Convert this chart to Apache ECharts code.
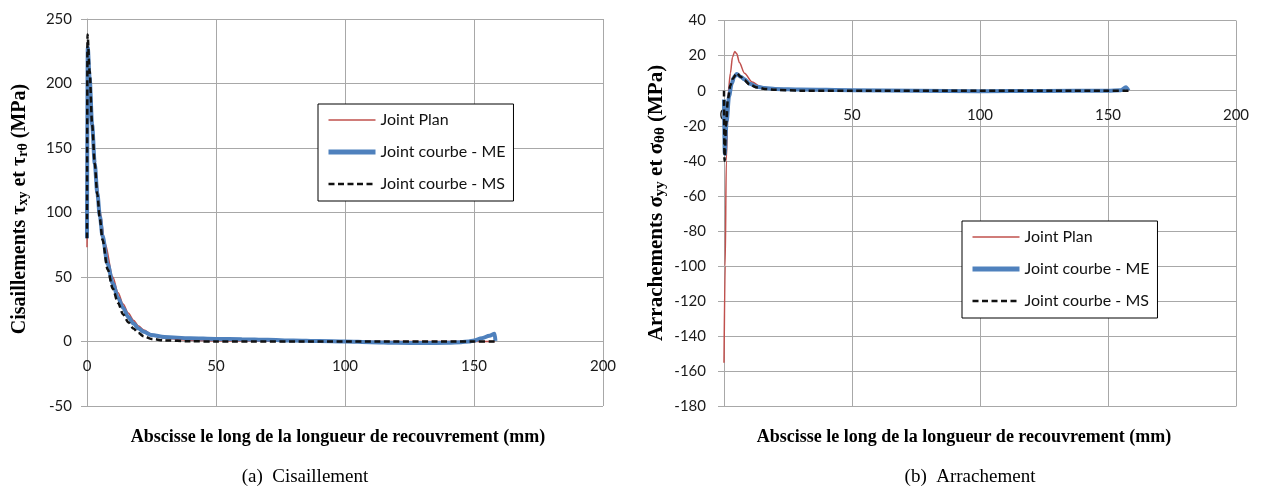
<!DOCTYPE html>
<html>
<head>
<meta charset="utf-8">
<script src="https://cdn.jsdelivr.net/npm/echarts@6/dist/echarts.min.js"></script>
<style>
html,body{margin:0;padding:0;background:#fff;}
#c{width:1262px;height:492px;}
</style>
</head>
<body>
<div id="c"></div>
<script>
// ---- data ----
const seriesNames = ['Joint Plan', 'Joint courbe - ME', 'Joint courbe - MS'];

// (a) Cisaillement
const shearPlanX = [0, 0.5, 1.5, 3, 5, 7, 10, 12, 14, 16, 18, 20, 22, 25, 30, 40, 50, 75, 100, 125, 150, 158];
const shearPlanY = [73, 190, 172, 142, 101, 76, 50, 38, 29, 22, 16.5, 12, 9, 5.5, 2.5, 1, 0.5, 0.2, 0, 0, 0, 0];
const shearMEX = [0, 0.3, 1, 2, 3, 4, 5, 6, 8, 10, 12, 14, 16, 18, 20, 22, 25, 30, 40, 50, 60, 70, 80, 90, 100, 110, 120, 130, 140, 145, 148, 150, 153, 156, 158, 158.3];
const shearMEY = [80, 228, 205, 168, 138, 115, 97, 82, 60, 45, 34, 26, 19, 14, 10, 7.5, 5, 3.5, 2.5, 2, 1.8, 1.3, 0.8, 0.3, 0, -0.5, -1, -1.2, -1, -0.5, 0, 0.8, 2.5, 4.5, 6, 0.5];
const shearMSX = [0, 0.2, 1, 2, 3, 4, 5, 6, 8, 10, 12, 14, 16, 18, 20, 22, 25, 30, 40, 50, 100, 150, 158];
const shearMSY = [80, 238, 210, 168, 138, 114, 95, 79, 56, 41, 30, 21, 15, 10, 6.5, 4, 2, 0.8, 0.2, 0, 0, 0, 0];

// (b) Arrachement
const peelPlanX = [0, 0.45, 0.9, 1.7, 2.5, 3.3, 4.2, 5, 6, 8, 11, 14, 16, 20, 30, 50, 100, 158];
const peelPlanY = [-155, -100, -40, 0, 10, 19, 22.4, 21, 16, 10, 5, 2.5, 1.3, 0.8, 0.3, 0, 0, 0];
const peelMEX = [0, 0.3, 1, 2, 3, 4, 5, 6.5, 8, 10, 13, 16, 20, 30, 50, 75, 100, 125, 150, 155, 157, 158];
const peelMEY = [-5, -36, -18, -3, 4, 8, 9.5, 8, 6.5, 4, 2.3, 1.5, 1, 0.7, 0.3, 0, -0.3, -0.2, 0, 0.3, 2, 0];
const peelMSX = [0, 0.2, 0.8, 1.5, 2.5, 3.5, 5, 6.5, 8, 10, 13, 16, 20, 30, 50, 100, 150, 158];
const peelMSY = [0, -40, -20, -5, 3, 7, 10, 8, 6, 3.5, 1.8, 1, 0.5, 0, 0, 0, 0, 0];

// axes
const xMin = 0, xMax = 200, xStep = 50;
const shearMin = -50, shearMax = 250, shearStep = 50;
const peelMin = -180, peelMax = 40, peelStep = 20;

// texts
const xAxisTitle = 'Abscisse le long de la longueur de recouvrement (mm)';
const captionA = '(a)  Cisaillement';
const captionB = '(b)  Arrachement';

// ---- build ----
const zip = (xs, ys) => xs.map((x, i) => [x, ys[i]]);
const GRID = '#a8a8a8';
const styles = [
  { color: '#c0504d', width: 1.5, type: 'solid' },
  { color: '#4f81bd', width: 4, type: 'solid' },
  { color: '#111111', width: 2.5, type: [6, 3.5] }
];
const tickFont = { fontFamily: 'Lato', fontSize: 15, color: '#1a1a1a' };

const grids = [
  { left: 87, top: 19, width: 516, height: 387 },
  { left: 724, top: 20.5, width: 512, height: 386 }
];

// x axis sits on the y = 0 line (as in the spreadsheet chart)
function xAxis(gi, yMin, yMax, margin) {
  const off = -((0 - yMin) / (yMax - yMin)) * grids[gi].height;
  return {
    type: 'value', gridIndex: gi, min: xMin, max: xMax, interval: xStep,
    position: 'bottom', offset: off,
    axisLine: { onZero: false, lineStyle: { color: GRID, width: 1 } },
    axisTick: { show: false },
    axisLabel: Object.assign({ margin: margin, hideOverlap: false }, tickFont),
    splitLine: { show: true, lineStyle: { color: GRID, width: 1 } }
  };
}
function yAxis(gi, mn, mx, st, margin) {
  return {
    type: 'value', gridIndex: gi, min: mn, max: mx, interval: st,
    axisLine: { show: true, onZero: false, lineStyle: { color: GRID, width: 1 } },
    axisTick: { show: true, length: 6, lineStyle: { color: GRID } },
    axisLabel: Object.assign({ margin: margin }, tickFont),
    splitLine: { show: true, lineStyle: { color: GRID, width: 1 } }
  };
}
function line(name, gi, data, s) {
  return {
    type: 'line', name: name, xAxisIndex: gi, yAxisIndex: gi, data: data,
    showSymbol: false, symbol: 'none', smooth: 0.3, smoothMonotone: 'x',
    lineStyle: { color: s.color, width: s.width, type: s.type },
    itemStyle: { color: s.color },
    emphasis: { disabled: true }
  };
}

const serifBold = { fontFamily: 'Liberation Serif', fontWeight: 'bold', fontSize: 20, fill: '#000' };
const serifSub = { fontFamily: 'Liberation Serif', fontWeight: 'bold', fontSize: 14, fill: '#000', verticalAlign: 'bottom', padding: [6, 0, 0, 0] };
const serifBold2 = Object.assign({}, serifBold, { fontSize: 21 });
const serifSub2 = Object.assign({}, serifSub, { fontSize: 15 });

function legend(left, top) {
  return {
    left: left, top: top, orient: 'vertical',
    data: seriesNames.map((n, i) => ({
      name: n,
      lineStyle: { color: styles[i].color, width: i === 1 ? 5 : styles[i].width, type: styles[i].type }
    })),
    itemWidth: 47, itemHeight: 14, itemGap: 16,
    padding: [8, 8, 9, 8],
    itemStyle: { opacity: 0 },
    borderColor: '#000', borderWidth: 1, backgroundColor: '#fff',
    textStyle: { fontFamily: 'Lato', fontSize: 16, color: '#111' },
    selectedMode: false
  };
}

const option = {
  animation: false,
  backgroundColor: '#fff',
  grid: grids,
  xAxis: [xAxis(0, shearMin, shearMax, 17), xAxis(1, peelMin, peelMax, 17)],
  yAxis: [yAxis(0, shearMin, shearMax, shearStep, 15), yAxis(1, peelMin, peelMax, peelStep, 18)],
  legend: [legend(318, 104), legend(962, 221)],
  series: [
    line(seriesNames[0], 0, zip(shearPlanX, shearPlanY), styles[0]),
    line(seriesNames[1], 0, zip(shearMEX, shearMEY), styles[1]),
    line(seriesNames[2], 0, zip(shearMSX, shearMSY), styles[2]),
    line(seriesNames[0], 1, zip(peelPlanX, peelPlanY), styles[0]),
    line(seriesNames[1], 1, zip(peelMEX, peelMEY), styles[1]),
    line(seriesNames[2], 1, zip(peelMSX, peelMSY), styles[2])
  ],
  graphic: [
    { type: 'text', x: 20, y: 209, rotation: Math.PI / 2,
      style: { text: '{n|Cisaillements τ}{s|xy}{n| et τ}{s|rθ}{n| (MPa)}', rich: { n: serifBold, s: serifSub },
               textAlign: 'center', textVerticalAlign: 'middle' } },
    { type: 'text', x: 657, y: 203, rotation: Math.PI / 2,
      style: { text: '{n|Arrachements σ}{s|yy}{n| et σ}{s|θθ}{n| (MPa)}', rich: { n: serifBold2, s: serifSub2 },
               textAlign: 'center', textVerticalAlign: 'middle' } },
    { type: 'text', x: 338, y: 437,
      style: { text: xAxisTitle, font: 'bold 18px "Liberation Serif"', fill: '#000', textAlign: 'center', textVerticalAlign: 'middle' } },
    { type: 'text', x: 964, y: 437,
      style: { text: xAxisTitle, font: 'bold 18px "Liberation Serif"', fill: '#000', textAlign: 'center', textVerticalAlign: 'middle' } },
    { type: 'text', x: 305, y: 477,
      style: { text: captionA, font: '19px "Liberation Serif"', fill: '#000', textAlign: 'center', textVerticalAlign: 'middle' } },
    { type: 'text', x: 970, y: 477,
      style: { text: captionB, font: '19px "Liberation Serif"', fill: '#000', textAlign: 'center', textVerticalAlign: 'middle' } }
  ]
};

const chart = echarts.init(document.getElementById('c'), null, { renderer: 'canvas' });
chart.setOption(option);
</script>
</body>
</html>
